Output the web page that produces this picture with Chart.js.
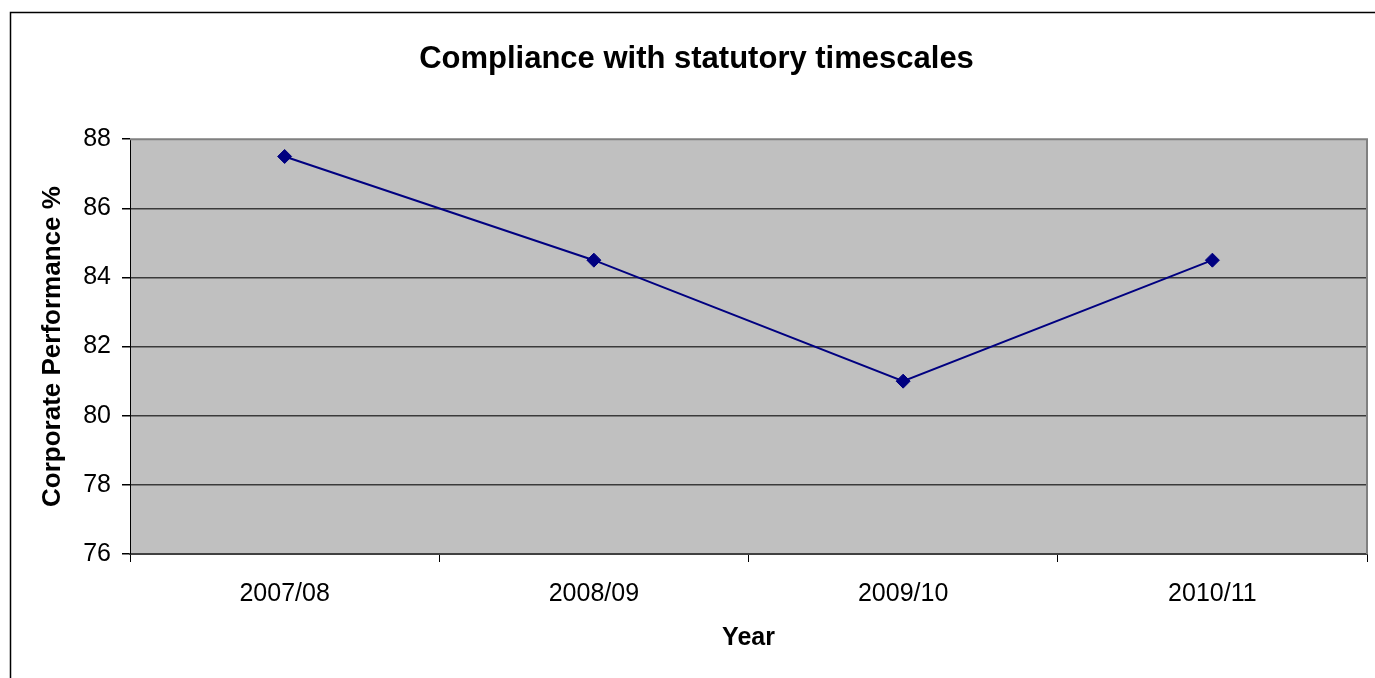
<!DOCTYPE html>
<html>
<head>
<meta charset="utf-8">
<title>Compliance with statutory timescales</title>
<script src="https://cdn.jsdelivr.net/npm/chart.js@4/dist/chart.umd.min.js"></script>
<style>
  html, body { margin: 0; padding: 0; background: #ffffff; }
  #wrap { width: 1375px; height: 678px; }
</style>
</head>
<body>
<div id="wrap"><canvas id="chart" width="1375" height="678"></canvas></div>
<script>
// Financial years and corporate performance (%)
const years = ['2007/08', '2008/09', '2009/10', '2010/11'];
const performance = [87.5, 84.5, 81, 84.5];
const yTicks = [76, 78, 80, 82, 84, 86, 88];

const chartTitle = 'Compliance with statutory timescales';
const xTitle = 'Year';
const yTitle = 'Corporate Performance %';

Chart.defaults.font.family = "'Liberation Sans', Arial, Helvetica, sans-serif";
Chart.defaults.color = '#000000';

// Grey plot background, plot frame and the outer chart border
const frame = {
  id: 'frame',
  beforeDraw(chart) {
    const { ctx, chartArea: a } = chart;
    ctx.save();
    ctx.fillStyle = '#c0c0c0';
    ctx.fillRect(a.left, a.top, a.right - a.left, a.bottom - a.top);
    ctx.restore();
  },
  afterDraw(chart) {
    const { ctx, chartArea: a } = chart;
    ctx.save();
    // plot border (top and right)
    ctx.strokeStyle = '#808080';
    ctx.lineWidth = 2;
    ctx.beginPath();
    ctx.moveTo(a.left, a.top);
    ctx.lineTo(a.right, a.top);
    ctx.lineTo(a.right, a.bottom);
    ctx.stroke();
    // outer border
    ctx.strokeStyle = '#000000';
    ctx.lineWidth = 1.5;
    ctx.strokeRect(10.5, 12.5, 1500, 800);
    ctx.restore();
  }
};

new Chart(document.getElementById('chart'), {
  type: 'line',
  data: {
    labels: years,
    datasets: [{
      data: performance,
      borderColor: '#000080',
      backgroundColor: '#000080',
      borderWidth: 2,
      pointStyle: 'rectRot',
      pointRadius: 7,
      pointBorderWidth: 1,
      pointBorderColor: '#000080',
      pointBackgroundColor: '#000080',
      tension: 0,
      clip: false
    }]
  },
  options: {
    responsive: false,
    animation: false,
    devicePixelRatio: 1,
    layout: { padding: { left: 25, right: 7, top: 0, bottom: 0 } },
    plugins: {
      legend: { display: false },
      tooltip: { enabled: false },
      title: {
        display: true,
        text: chartTitle,
        color: '#000000',
        font: { size: 31, weight: 'bold' },
        padding: { top: 41, bottom: 61 }
      }
    },
    scales: {
      x: {
        offset: true,
        afterFit(scale) { scale.height = 124; },
        grid: {
          offset: true,
          drawOnChartArea: false,
          drawTicks: true,
          tickLength: 8,
          color: '#000000',
          lineWidth: 1
        },
        border: { display: true, color: '#404040', width: 2 },
        ticks: { color: '#000000', font: { size: 25 }, padding: 17, maxRotation: 0, autoSkip: false },
        title: {
          display: true,
          text: xTitle,
          color: '#000000',
          font: { size: 25, weight: 'bold' },
          padding: { top: 0, bottom: 25 }
        }
      },
      y: {
        min: yTicks[0],
        max: yTicks[yTicks.length - 1],
        afterFit(scale) { scale.width = 105; },
        afterBuildTicks(scale) { scale.ticks = yTicks.map(v => ({ value: v })); },
        grid: {
          color: (c) => (c.tick && c.tick.value === yTicks[yTicks.length - 1]) ? 'rgba(0,0,0,0)' : '#3a3a3a',
          lineWidth: 1.5,
          drawTicks: true,
          tickLength: 8,
          tickColor: '#000000'
        },
        border: { display: true, color: '#000000', width: 1 },
        ticks: { color: '#000000', font: { size: 25 }, padding: 11 },
        title: {
          display: true,
          text: yTitle,
          color: '#000000',
          font: { size: 26, weight: 'bold' },
          padding: { top: 12, bottom: 0 }
        }
      }
    }
  },
  plugins: [frame]
});
</script>
</body>
</html>
